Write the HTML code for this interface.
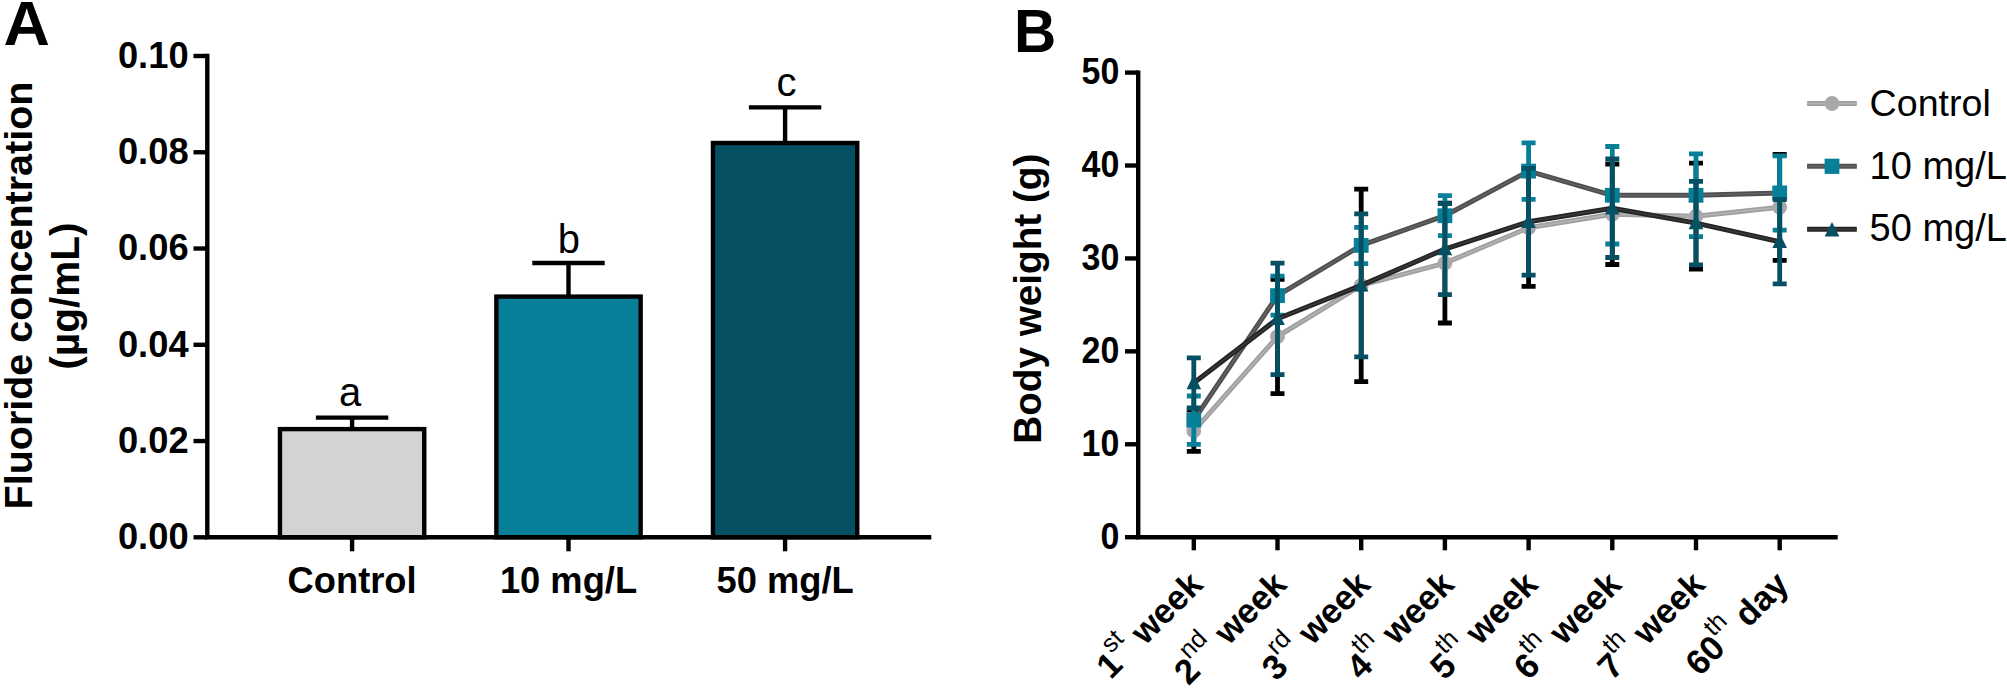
<!DOCTYPE html>
<html lang="en"><head><meta charset="utf-8"><title>Figure</title>
<style>
html,body{margin:0;padding:0;background:#fff;}
svg{display:block;}
text{font-family:"Liberation Sans", Arial, Helvetica, sans-serif;fill:#000;}
.b{font-weight:bold;}
</style></head><body>
<svg width="2007" height="688" viewBox="0 0 2007 688">
<rect width="2007" height="688" fill="#fff"/>

<g id="panelA">
<text class="b" font-size="60.5" transform="translate(3.5,45) scale(1.062,1.03)">A</text>
<text class="b" font-size="39.5" text-anchor="middle" transform="translate(32.3,295.5) rotate(-90)">Fluoride concentration</text>
<text class="b" font-size="40.5" text-anchor="middle" transform="translate(79.0,296.1) rotate(-90)">(µg/mL)</text>
<path d="M315.9 417.6H388.3M352.1 417.6V429.9" stroke="#000" stroke-width="4.4" fill="none"/>
<rect x="279.95" y="429.10" width="144.30" height="108.20" fill="#d3d3d3" stroke="#000" stroke-width="4.4"/>
<path d="M532.3 263.0H604.7M568.5 263.0V297.4" stroke="#000" stroke-width="4.4" fill="none"/>
<rect x="496.35" y="296.60" width="144.30" height="240.70" fill="#087f99" stroke="#000" stroke-width="4.4"/>
<path d="M748.9 107.4H821.3M785.1 107.4V143.8" stroke="#000" stroke-width="4.4" fill="none"/>
<rect x="712.95" y="143.00" width="144.30" height="394.30" fill="#055062" stroke="#000" stroke-width="4.4"/>
<path d="M207.3 53.8V537.3H931.3" stroke="#000" stroke-width="4.4" fill="none" stroke-linejoin="miter"/>
<path d="M193.5 537.30H207.3" stroke="#000" stroke-width="4.4"/>
<text class="b" font-size="36.3" text-anchor="end" x="188.6" y="549.10">0.00</text>
<path d="M193.5 441.04H207.3" stroke="#000" stroke-width="4.4"/>
<text class="b" font-size="36.3" text-anchor="end" x="188.6" y="452.84">0.02</text>
<path d="M193.5 344.78H207.3" stroke="#000" stroke-width="4.4"/>
<text class="b" font-size="36.3" text-anchor="end" x="188.6" y="356.58">0.04</text>
<path d="M193.5 248.52H207.3" stroke="#000" stroke-width="4.4"/>
<text class="b" font-size="36.3" text-anchor="end" x="188.6" y="260.32">0.06</text>
<path d="M193.5 152.26H207.3" stroke="#000" stroke-width="4.4"/>
<text class="b" font-size="36.3" text-anchor="end" x="188.6" y="164.06">0.08</text>
<path d="M193.5 56.00H207.3" stroke="#000" stroke-width="4.4"/>
<text class="b" font-size="36.3" text-anchor="end" x="188.6" y="67.80">0.10</text>
<path d="M352.1 537.3V551.3" stroke="#000" stroke-width="4.4"/>
<path d="M568.5 537.3V551.3" stroke="#000" stroke-width="4.4"/>
<path d="M785.1 537.3V551.3" stroke="#000" stroke-width="4.4"/>
<text class="b" font-size="36.3" text-anchor="middle" x="352.1" y="593.4">Control</text>
<text class="b" font-size="36.3" text-anchor="middle" x="568.5" y="593.4">10 mg/L</text>
<text class="b" font-size="36.3" text-anchor="middle" x="785.1" y="593.4">50 mg/L</text>
<text font-size="40" text-anchor="middle" x="350.2" y="405.6">a</text>
<text font-size="40" text-anchor="middle" x="568.8" y="252.9">b</text>
<text font-size="40" text-anchor="middle" x="786.5" y="96.2">c</text>
</g>
<g id="panelB">
<text class="b" font-size="61.1" transform="translate(1014.1,51.7) scale(0.958,1)">B</text>
<text class="b" font-size="38.7" text-anchor="middle" transform="translate(1040.7,298.7) rotate(-90)">Body weight (g)</text>
<polyline points="1193.8,430.8 1277.5,336.5 1361.2,285.4 1444.9,263.1 1528.6,227.8 1612.3,214.3 1696.0,216.2 1779.7,207.3" fill="none" stroke="#a0a0a3" stroke-width="5.0" stroke-linejoin="round"/>
<polyline points="1193.8,430.8 1277.5,336.5 1361.2,285.4 1444.9,263.1 1528.6,227.8 1612.3,214.3 1696.0,216.2 1779.7,207.3" fill="none" stroke="#b4b4b7" stroke-width="1.4" stroke-linejoin="round"/>
<path d="M1193.8 410.2V451.4M1186.8 410.2h14M1186.8 451.4h14M1277.5 279.3V393.6M1270.5 279.3h14M1270.5 393.6h14M1361.2 189.2V381.6M1354.2 189.2h14M1354.2 381.6h14M1444.9 203.2V323.0M1437.9 203.2h14M1437.9 323.0h14M1528.6 169.2V286.3M1521.6 169.2h14M1521.6 286.3h14M1612.3 164.1V264.5M1605.3 164.1h14M1605.3 264.5h14M1696.0 163.2V269.1M1689.0 163.2h14M1689.0 269.1h14M1779.7 154.4V260.3M1772.7 154.4h14M1772.7 260.3h14" stroke="#000" stroke-width="4.8" fill="none"/>
<circle cx="1193.8" cy="430.8" r="7.4" fill="#a8a8ab"/>
<circle cx="1277.5" cy="336.5" r="7.4" fill="#a8a8ab"/>
<circle cx="1361.2" cy="285.4" r="7.4" fill="#a8a8ab"/>
<circle cx="1444.9" cy="263.1" r="7.4" fill="#a8a8ab"/>
<circle cx="1528.6" cy="227.8" r="7.4" fill="#a8a8ab"/>
<circle cx="1612.3" cy="214.3" r="7.4" fill="#a8a8ab"/>
<circle cx="1696.0" cy="216.2" r="7.4" fill="#a8a8ab"/>
<circle cx="1779.7" cy="207.3" r="7.4" fill="#a8a8ab"/>
<polyline points="1193.8,420.1 1277.5,295.6 1361.2,245.4 1444.9,215.7 1528.6,171.1 1612.3,195.3 1696.0,195.3 1779.7,192.9" fill="none" stroke="#4f4f51" stroke-width="5.0" stroke-linejoin="round"/>
<polyline points="1193.8,420.1 1277.5,295.6 1361.2,245.4 1444.9,215.7 1528.6,171.1 1612.3,195.3 1696.0,195.3 1779.7,192.9" fill="none" stroke="#646466" stroke-width="1.4" stroke-linejoin="round"/>
<path d="M1193.8 396.0V444.3M1186.8 396.0h14M1186.8 444.3h14M1277.5 276.1V315.1M1270.5 276.1h14M1270.5 315.1h14M1361.2 227.3V263.6M1354.2 227.3h14M1354.2 263.6h14M1444.9 195.7V235.7M1437.9 195.7h14M1437.9 235.7h14M1528.6 142.8V199.4M1521.6 142.8h14M1521.6 199.4h14M1612.3 146.5V244.0M1605.3 146.5h14M1605.3 244.0h14M1696.0 153.9V236.6M1689.0 153.9h14M1689.0 236.6h14M1779.7 155.8V230.1M1772.7 155.8h14M1772.7 230.1h14" stroke="#087f99" stroke-width="4.8" fill="none"/>
<rect x="1186.4" y="412.7" width="14.8" height="14.8" fill="#087f99"/>
<rect x="1270.1" y="288.2" width="14.8" height="14.8" fill="#087f99"/>
<rect x="1353.8" y="238.0" width="14.8" height="14.8" fill="#087f99"/>
<rect x="1437.5" y="208.3" width="14.8" height="14.8" fill="#087f99"/>
<rect x="1521.2" y="163.7" width="14.8" height="14.8" fill="#087f99"/>
<rect x="1604.9" y="187.9" width="14.8" height="14.8" fill="#087f99"/>
<rect x="1688.6" y="187.9" width="14.8" height="14.8" fill="#087f99"/>
<rect x="1772.3" y="185.5" width="14.8" height="14.8" fill="#087f99"/>
<polyline points="1193.8,383.0 1277.5,318.8 1361.2,285.4 1444.9,249.1 1528.6,221.7 1612.3,208.3 1696.0,223.1 1779.7,241.7" fill="none" stroke="#242425" stroke-width="5.0" stroke-linejoin="round"/>
<polyline points="1193.8,383.0 1277.5,318.8 1361.2,285.4 1444.9,249.1 1528.6,221.7 1612.3,208.3 1696.0,223.1 1779.7,241.7" fill="none" stroke="#3b3b3d" stroke-width="1.4" stroke-linejoin="round"/>
<path d="M1193.8 357.9V408.0M1186.8 357.9h14M1186.8 408.0h14M1277.5 263.1V374.6M1270.5 263.1h14M1270.5 374.6h14M1361.2 213.8V356.9M1354.2 213.8h14M1354.2 356.9h14M1444.9 203.6V294.7M1437.9 203.6h14M1437.9 294.7h14M1528.6 168.3V275.2M1521.6 168.3h14M1521.6 275.2h14M1612.3 159.0V257.5M1605.3 159.0h14M1605.3 257.5h14M1696.0 181.3V264.9M1689.0 181.3h14M1689.0 264.9h14M1779.7 199.5V283.9M1772.7 199.5h14M1772.7 283.9h14" stroke="#055062" stroke-width="4.8" fill="none"/>
<path d="M1193.8 374.6L1201.1 389.2H1186.5Z" fill="#055062"/>
<path d="M1277.5 310.4L1284.8 325.0H1270.2Z" fill="#055062"/>
<path d="M1361.2 277.0L1368.5 291.6H1353.9Z" fill="#055062"/>
<path d="M1444.9 240.7L1452.2 255.3H1437.6Z" fill="#055062"/>
<path d="M1528.6 213.3L1535.9 227.9H1521.3Z" fill="#055062"/>
<path d="M1612.3 199.9L1619.6 214.5H1605.0Z" fill="#055062"/>
<path d="M1696.0 214.7L1703.3 229.3H1688.7Z" fill="#055062"/>
<path d="M1779.7 233.3L1787.0 247.9H1772.4Z" fill="#055062"/>
<path d="M1138.2 70.4V537.2H1837.7" stroke="#000" stroke-width="4.4" fill="none" stroke-linejoin="miter"/>
<path d="M1125.0 537.20H1138.2" stroke="#000" stroke-width="4.4"/>
<text class="b" font-size="37.1" text-anchor="end" transform="translate(1119.3,548.70) scale(0.915,1)">0</text>
<path d="M1125.0 444.28H1138.2" stroke="#000" stroke-width="4.4"/>
<text class="b" font-size="37.1" text-anchor="end" transform="translate(1119.3,455.78) scale(0.915,1)">10</text>
<path d="M1125.0 351.36H1138.2" stroke="#000" stroke-width="4.4"/>
<text class="b" font-size="37.1" text-anchor="end" transform="translate(1119.3,362.86) scale(0.915,1)">20</text>
<path d="M1125.0 258.44H1138.2" stroke="#000" stroke-width="4.4"/>
<text class="b" font-size="37.1" text-anchor="end" transform="translate(1119.3,269.94) scale(0.915,1)">30</text>
<path d="M1125.0 165.52H1138.2" stroke="#000" stroke-width="4.4"/>
<text class="b" font-size="37.1" text-anchor="end" transform="translate(1119.3,177.02) scale(0.915,1)">40</text>
<path d="M1125.0 72.60H1138.2" stroke="#000" stroke-width="4.4"/>
<text class="b" font-size="37.1" text-anchor="end" transform="translate(1119.3,84.10) scale(0.915,1)">50</text>
<path d="M1193.8 537.2V550.3" stroke="#000" stroke-width="4.4"/>
<path d="M1277.5 537.2V550.3" stroke="#000" stroke-width="4.4"/>
<path d="M1361.2 537.2V550.3" stroke="#000" stroke-width="4.4"/>
<path d="M1444.9 537.2V550.3" stroke="#000" stroke-width="4.4"/>
<path d="M1528.6 537.2V550.3" stroke="#000" stroke-width="4.4"/>
<path d="M1612.3 537.2V550.3" stroke="#000" stroke-width="4.4"/>
<path d="M1696.0 537.2V550.3" stroke="#000" stroke-width="4.4"/>
<path d="M1779.7 537.2V550.3" stroke="#000" stroke-width="4.4"/>
<text class="b" font-size="34.6" text-anchor="end" transform="translate(1204.7,586.3) rotate(-45)">1<tspan font-weight="normal" font-size="25.3" dy="-18.4" dx="-0.6">st</tspan><tspan dy="18.4" dx="0.3"> week</tspan></text>
<text class="b" font-size="34.6" text-anchor="end" transform="translate(1288.4,586.3) rotate(-45)">2<tspan font-weight="normal" font-size="25.3" dy="-18.4" dx="-0.6">nd</tspan><tspan dy="18.4" dx="0.3"> week</tspan></text>
<text class="b" font-size="34.6" text-anchor="end" transform="translate(1372.1,586.3) rotate(-45)">3<tspan font-weight="normal" font-size="25.3" dy="-18.4" dx="-0.6">rd</tspan><tspan dy="18.4" dx="0.3"> week</tspan></text>
<text class="b" font-size="34.6" text-anchor="end" transform="translate(1455.8,586.3) rotate(-45)">4<tspan font-weight="normal" font-size="25.3" dy="-18.4" dx="-0.6">th</tspan><tspan dy="18.4" dx="0.3"> week</tspan></text>
<text class="b" font-size="34.6" text-anchor="end" transform="translate(1539.5,586.3) rotate(-45)">5<tspan font-weight="normal" font-size="25.3" dy="-18.4" dx="-0.6">th</tspan><tspan dy="18.4" dx="0.3"> week</tspan></text>
<text class="b" font-size="34.6" text-anchor="end" transform="translate(1623.2,586.3) rotate(-45)">6<tspan font-weight="normal" font-size="25.3" dy="-18.4" dx="-0.6">th</tspan><tspan dy="18.4" dx="0.3"> week</tspan></text>
<text class="b" font-size="34.6" text-anchor="end" transform="translate(1706.9,586.3) rotate(-45)">7<tspan font-weight="normal" font-size="25.3" dy="-18.4" dx="-0.6">th</tspan><tspan dy="18.4" dx="0.3"> week</tspan></text>
<text class="b" font-size="34.6" text-anchor="end" transform="translate(1790.6,586.3) rotate(-45)">60<tspan font-weight="normal" font-size="25.3" dy="-18.4" dx="-0.6">th</tspan><tspan dy="18.4" dx="0.3"> day</tspan></text>
<path d="M1807.1 103.5H1856.8" stroke="#a0a0a3" stroke-width="5.0"/>
<path d="M1807.1 103.5H1856.8" stroke="#b4b4b7" stroke-width="1.4"/>
<circle cx="1832.0" cy="103.5" r="7.4" fill="#a8a8ab"/>
<text font-size="37.6" x="1869.6" y="115.8">Control</text>
<path d="M1807.1 166.3H1856.8" stroke="#4f4f51" stroke-width="5.0"/>
<path d="M1807.1 166.3H1856.8" stroke="#646466" stroke-width="1.4"/>
<rect x="1824.6" y="158.7" width="14.8" height="15.2" fill="#087f99"/>
<text font-size="38" x="1869.6" y="178.7">10 mg/L</text>
<path d="M1807.1 229.2H1856.8" stroke="#242425" stroke-width="5.0"/>
<path d="M1807.1 229.2H1856.8" stroke="#3b3b3d" stroke-width="1.4"/>
<path d="M1832.0 222.1L1839.3 236.5H1824.7Z" fill="#055062"/>
<text font-size="38" x="1869.6" y="241.1">50 mg/L</text>
</g>
</svg></body></html>
